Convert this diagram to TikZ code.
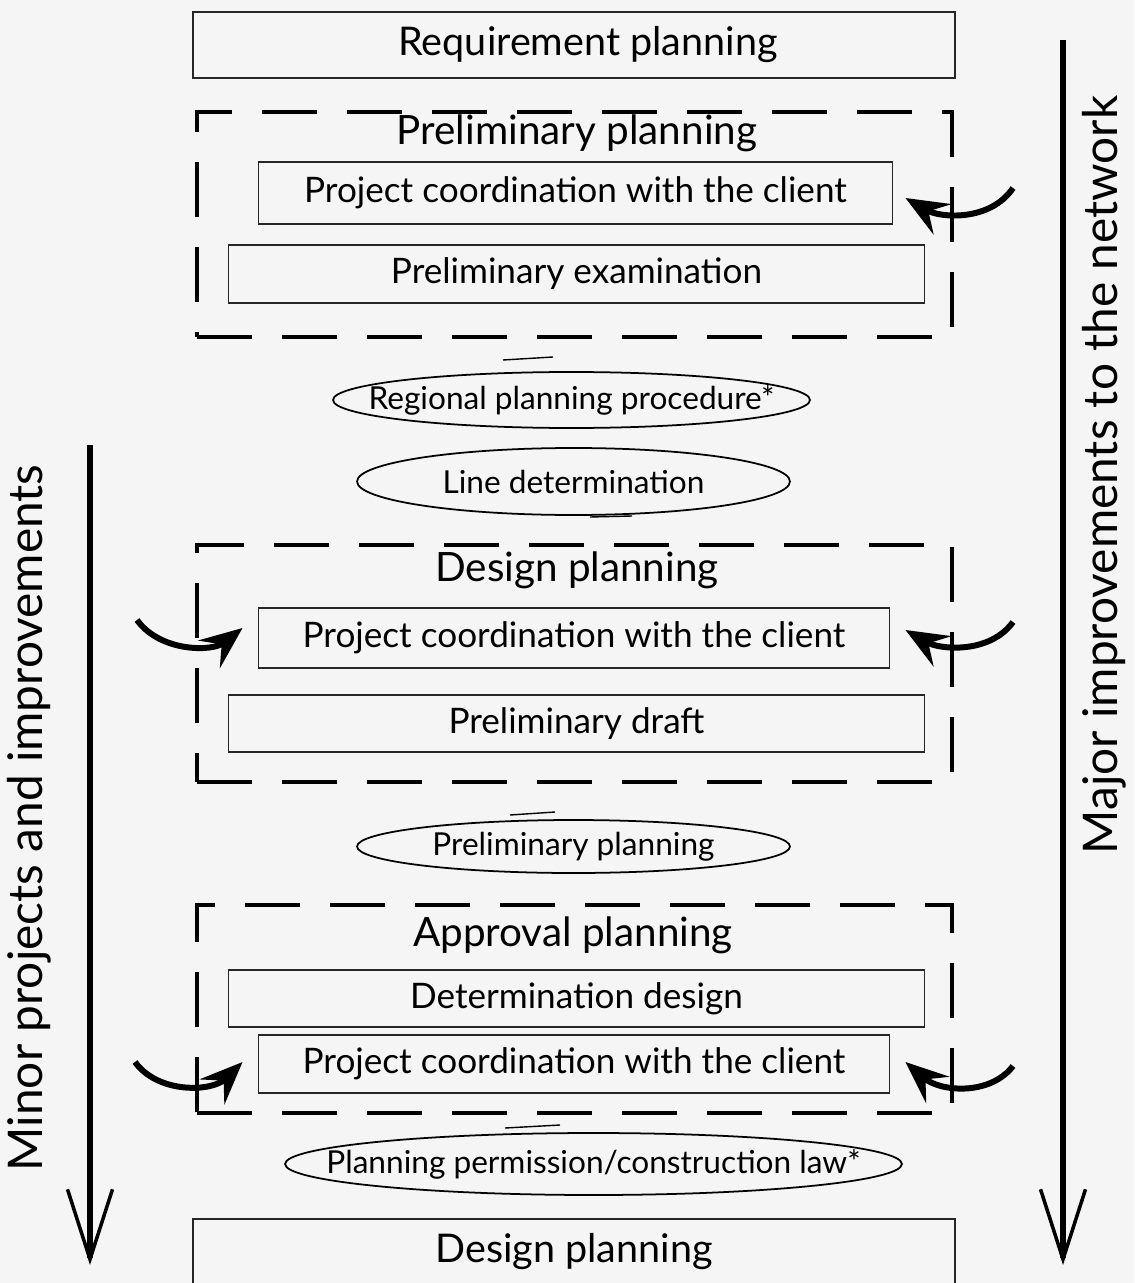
\documentclass[tikz,border=0pt]{standalone}
\usepackage{fontspec}
\setmainfont{Lato}
\usetikzlibrary{shapes,arrows.meta,positioning,calc}

\begin{document}
\begin{tikzpicture}[x=0.02cm,y=-0.02cm,
		phase/.style={draw=black!85, line width=0.7pt, minimum width=15.24cm, minimum height=1.32cm, font=\fontsize{22.5}{26}\selectfont},
		task/.style={draw=black!85, line width=0.6pt, minimum height=1.16cm, font=\fontsize{20}{24}\selectfont},
		group/.style={draw, line width=2.5pt, dash pattern=on 1.1cm off 0.6cm, minimum width=15.1cm},
		title/.style={font=\fontsize{23}{27}\selectfont},
		proc/.style={ellipse, draw, line width=1pt, inner xsep=-1.4cm, inner ysep=-0.1cm, font=\fontsize{18}{21}\selectfont},
		flow/.style={line width=3.5pt, -{Straight Barb[length=1.4cm,width=0.9cm,line width=2pt]}},
		hook/.style={line width=3.4pt, -{Stealth[length=8.5mm,width=7mm,inset=3.2mm]}},
		side/.style={rotate=90, font=\fontsize{27.2}{32}\selectfont}]

		\useasboundingbox (0,0) rectangle (1134,1283);
		\fill[black!4] (0,0) rectangle (1134,1283);

		% dashed phase groups
		\node (g1)[group, minimum height=4.5cm] at (574.5,224.5) {};
		\node (g2)[group, minimum height=4.74cm] at (574.5,663.5) {};
		\node (g3)[group, minimum height=4.16cm] at (574.5,1009) {};

		\node (req)[phase] at (574,45) {\hspace{16pt}Requirement planning};

		\node (t1)[title] at (577,133) {Preliminary planning};
		\node (pc1)[task, minimum width=12.7cm, minimum height=1.24cm] at (575.5,193) {Project coordination with the client};
		\node (pe1)[task, minimum width=13.94cm] at (576.5,274) {Preliminary examination};

		\node (rp)[proc, minimum width=9.54cm, minimum height=1.12cm] at (571.5,400) {Regional planning procedure*};
		\node (ld)[proc, minimum width=8.66cm, minimum height=1.34cm] at (573.5,481.5) {Line determination};

		\node (t2)[title] at (577,570) {Design planning};
		\node (pc2)[task, minimum width=12.64cm, minimum height=1.2cm] at (574,638) {Project coordination with the client};
		\node (pd2)[task, minimum width=13.94cm, minimum height=1.14cm] at (576.5,723.5) {Preliminary draft};

		\node (pp)[proc, minimum width=8.66cm, minimum height=1.06cm] at (573.5,846.5) {Preliminary planning};

		\node (t3)[title] at (573,935) {Approval planning};
		\node (dd3)[task, minimum width=13.94cm, minimum height=1.14cm] at (576.5,998.5) {Determination design};
		\node (pc3)[task, minimum width=12.64cm] at (574,1064) {Project coordination with the client};

		\node (pl)[proc, minimum width=12.34cm, minimum height=1.24cm] at (593.5,1164) {Planning permission/construction law*};

		\node (des)[phase] at (574,1252) {Design planning};

		\draw[line width=0.8pt] (503,360)--(553,357);
		\draw[line width=0.8pt] (590,517)--(632,516);
		\draw[line width=0.8pt] (510,815)--(555,812);
		\draw[line width=0.8pt] (505,1128)--(560,1125);

		\coordinate (r1) at (1013,188);
		\coordinate (r2) at (1013,622);
		\coordinate (r3) at (1013,1066);
		\coordinate (l2) at (137,620);
		\coordinate (l3) at (135,1062);

		\draw[hook] (r1) .. controls (990,222) and (940,218) .. ([shift={(12,5)}]pc1.east);
		\draw[hook] (r2) .. controls (990,654) and (940,650) .. ([shift={(15,-8)}]pc2.east);
		\draw[hook] (r3) .. controls (990,1096) and (940,1092) .. ([shift={(15,-2)}]pc3.east);
		\draw[hook] (l2) .. controls (160,652) and (212,652) .. ([shift={(-15,-10)}]pc2.west);
		\draw[hook] (l3) .. controls (158,1094) and (212,1092) .. ([shift={(-15,-2)}]pc3.west);

		\coordinate (ls) at (90,445);
		\coordinate (le) at (90,1265);
		\coordinate (rs) at (1063,40);
		\coordinate (re) at (1063,1265);
		\draw[flow] (ls)--(le);
		\draw[flow] (rs)--(re);

		\node (minor)[side] at (29,818) {Minor projects and improvements};
		\node (major)[side] at (1104,475) {Major improvements to the network};
	\end{tikzpicture}
\end{document}
